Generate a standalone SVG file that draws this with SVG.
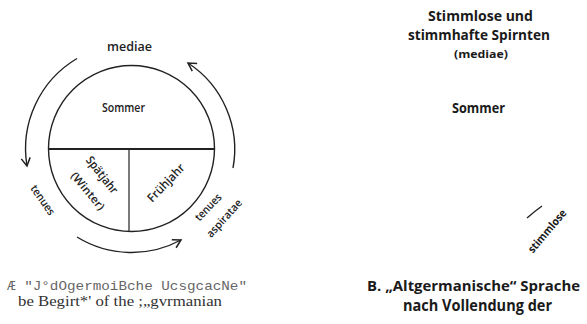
<svg xmlns="http://www.w3.org/2000/svg" width="587" height="324" viewBox="0 0 587 324">
<style>
.lbl{font-family:"Open Sans","DejaVu Sans",sans-serif;font-weight:600;fill:#222;}
.lblr{font-family:"Open Sans","DejaVu Sans",sans-serif;font-weight:700;fill:#1a1a1a;}
.ln{fill:none;stroke:#222;stroke-width:1.4;}
.mono{font-family:"Liberation Mono",monospace;font-size:13px;fill:#666;}
.serif{font-family:"Liberation Serif",serif;font-size:15px;fill:#333;}
</style>
<defs>
<marker id="arr" markerUnits="userSpaceOnUse" markerWidth="12" markerHeight="12" refX="0" refY="0" viewBox="-10 -6 12 12" orient="auto">
<path d="M-8,-4.5 L0,0 L-8,4.5" fill="none" stroke="#222" stroke-width="1.5"/>
</marker>
</defs>
<g id="circle">
<circle cx="131.5" cy="148.5" r="83" class="ln"/>
<line x1="49" y1="149" x2="214" y2="149" stroke="#222" stroke-width="2"/>
<line x1="129" y1="149" x2="129" y2="232" stroke="#222" stroke-width="1.2"/>
</g>
<g id="connectors">
<path d="M77,58.5 A105,105 0 0 0 27,166" class="ln" marker-end="url(#arr)"/>
<path d="M233,168 A103,103 0 0 0 188,63" class="ln" marker-end="url(#arr)"/>
<path d="M77,237 A104,104 0 0 0 181,240" class="ln" marker-end="url(#arr)"/>
<path d="M527,218 Q535,211 542,206" class="ln"/>
</g>
<g id="label-mediae"><text class="lbl" x="129.5" y="51" font-size="12" text-anchor="middle" textLength="45" lengthAdjust="spacingAndGlyphs">mediae</text></g>
<g id="node-sommer"><text class="lbl" x="123.5" y="112" font-size="13" text-anchor="middle" textLength="43" lengthAdjust="spacingAndGlyphs">Sommer</text></g>
<g id="node-spaetjahr" transform="translate(102,175) rotate(52)">
<text class="lbl" x="0" y="4" font-size="12" text-anchor="middle" textLength="44" lengthAdjust="spacingAndGlyphs">Spätjahr</text>
</g>
<g id="node-winter" transform="translate(88,191) rotate(50)">
<text class="lbl" x="0" y="4" font-size="11" text-anchor="middle" textLength="46" lengthAdjust="spacingAndGlyphs">(Winter)</text>
</g>
<g id="node-fruehjahr" transform="translate(166,183) rotate(-46)">
<text class="lbl" x="0" y="4" font-size="12" text-anchor="middle" textLength="48" lengthAdjust="spacingAndGlyphs">Frühjahr</text>
</g>
<g id="label-tenues-left" transform="translate(43,200) rotate(55)">
<text class="lbl" x="0" y="4" font-size="11" text-anchor="middle" textLength="34" lengthAdjust="spacingAndGlyphs">tenues</text>
</g>
<g id="label-tenues-right" transform="translate(208,207) rotate(-46)">
<text class="lbl" x="0" y="4" font-size="11" text-anchor="middle" textLength="33" lengthAdjust="spacingAndGlyphs">tenues</text>
</g>
<g id="label-aspiratae" transform="translate(224,218) rotate(-48)">
<text class="lbl" x="0" y="4" font-size="11" text-anchor="middle" textLength="47" lengthAdjust="spacingAndGlyphs">aspiratae</text>
</g>
<g id="caption-left">
<text class="mono" x="7" y="290" textLength="240" lengthAdjust="spacingAndGlyphs">Æ "J°dOgermoiBche UcsgcacNe"</text>
<text class="serif" x="18" y="306" textLength="204" lengthAdjust="spacingAndGlyphs">be Begirt*' of the ;„gvrmanian</text>
</g>
<g id="right-heading">
<text class="lblr" x="480.5" y="21" font-size="14" text-anchor="middle" textLength="105" lengthAdjust="spacingAndGlyphs">Stimmlose und</text>
<text class="lblr" x="479" y="40" font-size="14" text-anchor="middle" textLength="142" lengthAdjust="spacingAndGlyphs">stimmhafte Spirnten</text>
<text class="lblr" x="481" y="58" font-size="11" text-anchor="middle" textLength="54" lengthAdjust="spacingAndGlyphs">(mediae)</text>
</g>
<g id="node-sommer-right"><text class="lblr" x="478.5" y="113" font-size="14" text-anchor="middle" textLength="53" lengthAdjust="spacingAndGlyphs">Sommer</text></g>
<g id="label-stimmlose" transform="translate(547,231) rotate(-50)">
<text class="lblr" x="0" y="4" font-size="11" text-anchor="middle" textLength="53" lengthAdjust="spacingAndGlyphs">stimmlose</text>
</g>
<g id="caption-right">
<text class="lblr" x="367" y="291" font-size="14.5" textLength="213" lengthAdjust="spacingAndGlyphs">B. „Altgermanische“ Sprache</text>
<text class="lblr" x="477.5" y="311" font-size="15.5" text-anchor="middle" textLength="149" lengthAdjust="spacingAndGlyphs">nach Vollendung der</text>
</g>
</svg>
